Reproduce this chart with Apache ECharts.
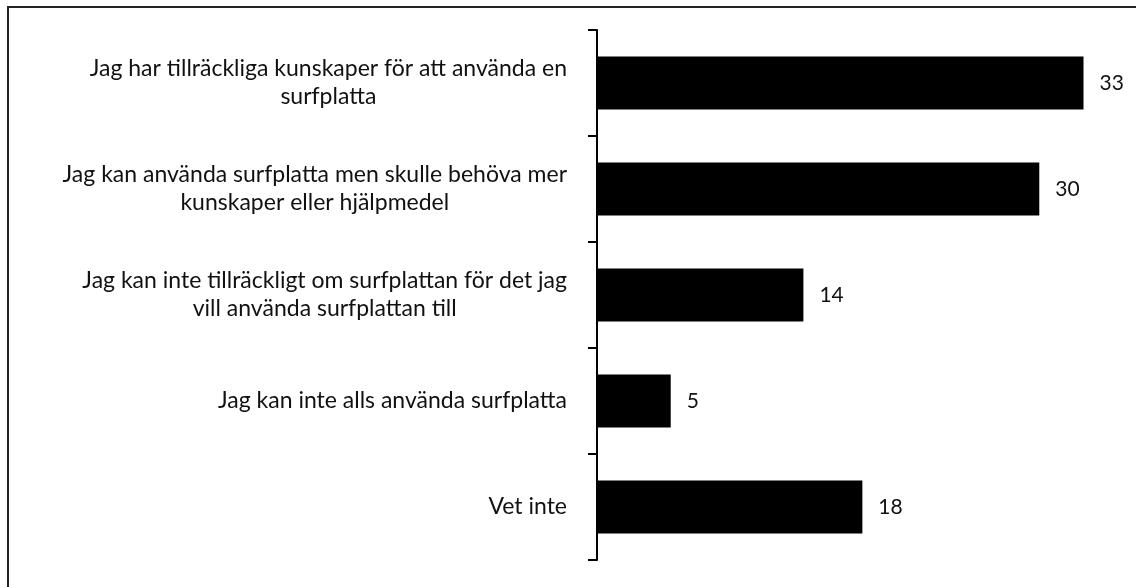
<!DOCTYPE html>
<html>
<head>
<meta charset="utf-8">
<style>
  html, body { margin: 0; padding: 0; background: #fff; }
  #chart { width: 1136px; height: 587px; }
</style>
<script src="https://cdn.jsdelivr.net/npm/echarts@6/dist/echarts.min.js"></script>
</head>
<body>
<div id="chart"></div>
<script>
  // kategorier (radbrytningar som i originalet)
  var categories = [
    'Jag har tillräckliga kunskaper för att använda en\nsurfplatta',
    'Jag kan använda surfplatta men skulle behöva mer\nkunskaper eller hjälpmedel',
    'Jag kan inte tillräckligt om surfplattan för det jag\nvill använda surfplattan till',
    'Jag kan inte alls använda surfplatta',
    'Vet inte'
  ];
  var values = [33, 30, 14, 5, 18];

  var myChart = echarts.init(document.getElementById('chart'));

  var option = {
    backgroundColor: '#fff',
    animation: false,
    textStyle: { fontFamily: 'Lato' },
    graphic: [{
      type: 'rect',
      shape: { x: 8, y: 7, width: 2000, height: 2000 },
      style: { fill: 'none', stroke: '#222', lineWidth: 2 },
      silent: true
    }],
    grid: { left: 597, top: 30, bottom: 27, right: 23 },
    xAxis: {
      type: 'value',
      min: 0,
      max: 35,
      show: false,
      splitLine: { show: false }
    },
    yAxis: {
      type: 'category',
      inverse: true,
      data: categories,
      axisLine: { show: true, lineStyle: { color: '#000', width: 2 } },
      axisTick: { show: true, length: 9, lineStyle: { color: '#000', width: 2 } },
      axisLabel: {
        margin: 30,
        fontSize: 23,
        lineHeight: 28,
        color: '#111',
        align: 'right',
        formatter: function (v) {
          var lines = v.split('\n');
          if (lines.length === 1) return v;
          // rader centrerade inom blocket
          return lines.map(function (l) { return '{c|' + l + '}'; }).join('\n');
        },
        rich: {
          c: { align: 'center', fontSize: 23, lineHeight: 28, color: '#111', fontFamily: 'Lato' }
        }
      }
    },
    series: [{
      type: 'bar',
      data: values,
      barWidth: '50%',
      itemStyle: { color: '#000' },
      label: {
        show: true,
        position: 'right',
        distance: 16,
        fontSize: 21,
        color: '#111'
      }
    }]
  };

  myChart.setOption(option);
</script>
</body>
</html>
